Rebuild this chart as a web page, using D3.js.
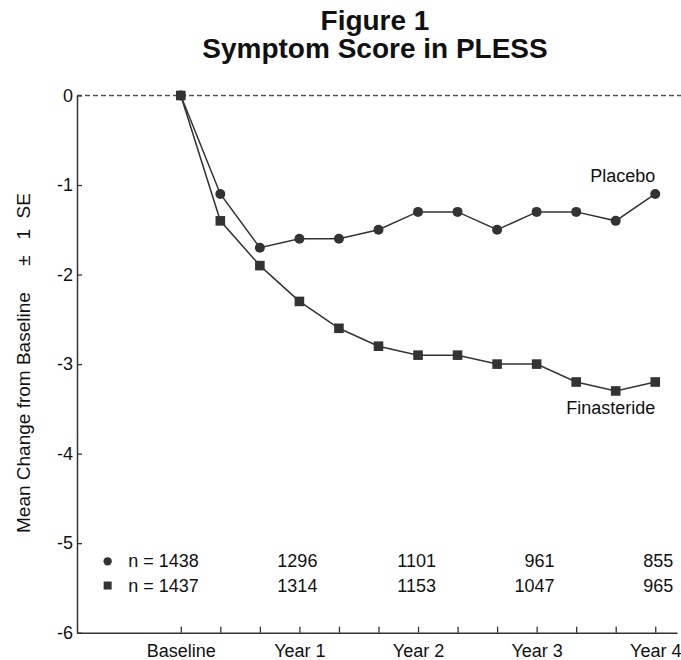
<!DOCTYPE html>
<html><head><meta charset="utf-8">
<script src="https://cdn.jsdelivr.net/npm/d3@7"></script>
<style>
body{margin:0;background:#fff;}
text{font-family:"Liberation Sans",Arial,sans-serif;}
</style></head>
<body><svg id="c" width="681" height="660"></svg>
<script>
const months = [0,4,8,12,16,20,24,28,32,36,40,44,48];
const placebo = [0,-1.1,-1.7,-1.6,-1.6,-1.5,-1.3,-1.3,-1.5,-1.3,-1.3,-1.4,-1.1];
const finasteride = [0,-1.4,-1.9,-2.3,-2.6,-2.8,-2.9,-2.9,-3.0,-3.0,-3.2,-3.3,-3.2];
const yearTicks = [0,12,24,36,48];
const yearLabels = ["Baseline","Year 1","Year 2","Year 3","Year 4"];
const yTicks = [0,-1,-2,-3,-4,-5,-6];
const nPlacebo = ["n = 1438","1296","1101","961","855"];
const nFinasteride = ["n = 1437","1314","1153","1047","965"];
const titleLines = ["Figure 1","Symptom Score in PLESS"];
const yLabel = "Mean Change from Baseline     \u00B1   1  SE";

const svg = d3.select("#c");
const ink = "#333";
const x = d3.scaleLinear().domain([-10.5,50.2]).range([77,677]);
const y = d3.scaleLinear().domain([0,-6]).range([95.5,632.7]);
const font = "Liberation Sans, Arial, sans-serif";

// title
svg.selectAll("text.title").data(titleLines).join("text")
  .attr("class","title").attr("x",375).attr("y",(d,i)=>30+i*28)
  .attr("text-anchor","middle").attr("font-size",28).attr("font-weight","bold")
  .attr("fill","#111").text(d=>d);

// zero dashed line
svg.append("line").attr("x1",x.range()[0]).attr("x2",681)
  .attr("y1",y(0)).attr("y2",y(0))
  .attr("stroke","#555").attr("stroke-width",1.5).attr("stroke-dasharray","5,3");

// y axis
const yAxis = d3.axisLeft(y).tickValues(yTicks).tickSizeInner(-5).tickSizeOuter(0).tickPadding(4)
  .tickFormat(d=>String(d));
const gy = svg.append("g").attr("transform",`translate(${x.range()[0]},0)`).call(yAxis);
gy.select(".domain").attr("stroke",ink).attr("stroke-width",1.5);
gy.selectAll(".tick line").attr("stroke",ink).attr("stroke-width",1.3);
gy.selectAll(".tick text").attr("font-size",18).attr("fill","#111").attr("font-family",font);

// x axis
const xAxis = d3.axisBottom(x).tickValues(months).tickSizeInner(-6).tickSizeOuter(0).tickPadding(11.5)
  .tickFormat(d=>{const i=yearTicks.indexOf(d);return i>=0?yearLabels[i]:"";});
const gx = svg.append("g").attr("transform",`translate(0,${y(-6)})`).call(xAxis);
gx.select(".domain").attr("stroke",ink).attr("stroke-width",1.5);
gx.selectAll(".tick line").attr("stroke",ink).attr("stroke-width",1.3);
gx.selectAll(".tick text").attr("font-size",18).attr("fill","#111").attr("font-family",font);

// y label
svg.append("text").attr("transform","translate(30,533) rotate(-90)")
  .attr("text-anchor","start").attr("font-size",19).attr("fill","#111")
  .style("white-space","pre").text(yLabel);

// lines
const line = d3.line().x((d,i)=>x(months[i])).y(d=>y(d));
[placebo,finasteride].forEach(s=>{
  svg.append("path").attr("d",line(s)).attr("fill","none").attr("stroke",ink).attr("stroke-width",1.5);
});
svg.selectAll("circle.p").data(placebo).join("circle").attr("class","p")
  .attr("cx",(d,i)=>x(months[i])).attr("cy",d=>y(d)).attr("r",5).attr("fill",ink);
svg.selectAll("rect.f").data(finasteride).join("rect").attr("class","f")
  .attr("x",(d,i)=>x(months[i])-4.8).attr("y",d=>y(d)-4.8).attr("width",9.6).attr("height",9.6).attr("fill",ink);

// series labels
const last = months.length-1;
svg.append("text").attr("x",x(months[last])).attr("y",y(placebo[last])-12)
  .attr("text-anchor","end").attr("font-size",18).attr("fill","#111").text("Placebo");
svg.append("text").attr("x",x(months[last])).attr("y",y(finasteride[last])+32)
  .attr("text-anchor","end").attr("font-size",18).attr("fill","#111").text("Finasteride");

// n table
const rowY = [y(-5.27), y(-5.54)];
[nPlacebo,nFinasteride].forEach((row,r)=>{
  svg.selectAll(`text.n${r}`).data(row).join("text").attr("class",`n${r}`)
    .attr("x",(d,i)=>x(yearTicks[i])+18).attr("y",rowY[r])
    .attr("text-anchor","end").attr("font-size",18).attr("fill","#111").text(d=>d);
});
svg.append("circle").attr("cx",x(-7.4)).attr("cy",rowY[0]-6).attr("r",4.2).attr("fill",ink);
svg.append("rect").attr("x",x(-7.4)-4).attr("y",rowY[1]-10).attr("width",8).attr("height",8).attr("fill",ink);
</script></body></html>
